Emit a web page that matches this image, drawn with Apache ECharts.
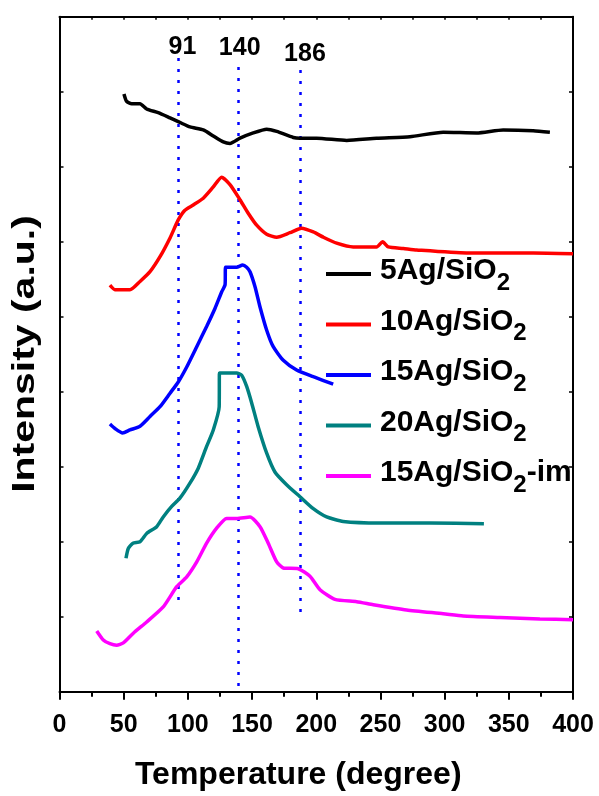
<!DOCTYPE html>
<html>
<head>
<meta charset="utf-8">
<script src="https://cdn.jsdelivr.net/npm/echarts@6/dist/echarts.min.js"></script>
<style>html,body{margin:0;padding:0;background:#fff;}#c{width:599px;height:796px;}</style>
</head>
<body>
<div id="c"></div>
<script>
// ---- data ----
const seriesNames = ['5Ag/SiO2', '10Ag/SiO2', '15Ag/SiO2', '20Ag/SiO2', '15Ag/SiO2-im'];
const seriesColors = ['#000000', '#ff0000', '#0000ff', '#008080', '#ff00ff'];

const ag5 = [[50.2,7.97],[52.3,7.87],[56.2,7.84],[62.7,7.84],[67.9,7.77],[76.9,7.72],[86.1,7.65],[93.8,7.59],[101.7,7.53],[112.0,7.49],[119.8,7.41],[127.6,7.33],[132.8,7.31],[140.6,7.38],[150.9,7.45],[161.4,7.50],[169.2,7.47],[182.1,7.39],[187.3,7.38],[200.3,7.38],[223.7,7.35],[247.0,7.38],[273.0,7.40],[298.9,7.46],[324.9,7.45],[345.6,7.49],[369.0,7.48],[382.0,7.46]];

const ag10 = [[39.3,5.42],[43.2,5.36],[54.9,5.36],[62.7,5.47],[70.5,5.60],[78.3,5.80],[86.1,6.05],[92.5,6.29],[97.7,6.42],[104.2,6.49],[112.0,6.58],[119.8,6.73],[126.3,6.86],[132.8,6.76],[140.6,6.56],[147.0,6.38],[153.6,6.22],[161.4,6.10],[169.2,6.06],[179.5,6.12],[188.6,6.18],[197.7,6.13],[205.5,6.06],[215.9,5.98],[228.8,5.93],[247.0,5.93],[251.7,6.00],[256.1,5.93],[267.8,5.91],[278.2,5.89],[317.1,5.85],[369.0,5.85],[400,5.84]];

const ag15 = [[39.3,3.57],[43.2,3.51],[49.2,3.45],[54.9,3.49],[62.7,3.54],[70.5,3.67],[78.3,3.80],[86.1,3.98],[92.5,4.13],[99.1,4.33],[106.9,4.60],[114.6,4.87],[121.1,5.11],[126.3,5.33],[129.0,5.43],[129.3,5.66],[138.0,5.66],[142.7,5.69],[145.8,5.66],[148.4,5.60],[152.3,5.40],[156.2,5.13],[161.4,4.82],[166.5,4.60],[174.3,4.42],[184.7,4.29],[197.7,4.20],[213.2,4.10]];

const ag20 = [[51.8,1.78],[53.6,1.91],[57.2,1.98],[62.7,2.00],[67.9,2.11],[75.7,2.20],[80.8,2.33],[87.4,2.47],[93.8,2.58],[101.6,2.78],[108.1,2.98],[114.6,3.27],[119.8,3.49],[124.4,3.80],[124.6,4.25],[138.0,4.25],[141.9,4.22],[145.8,4.07],[149.7,3.85],[154.8,3.53],[161.4,3.18],[167.8,2.93],[176.9,2.76],[187.3,2.60],[197.7,2.44],[208.1,2.33],[221.0,2.27],[249.6,2.25],[288.5,2.25],[330.6,2.24]];

const ag15im = [[29.0,0.81],[34.1,0.69],[39.3,0.64],[44.5,0.62],[49.7,0.65],[57.5,0.78],[67.9,0.93],[80.8,1.13],[91.3,1.40],[99.1,1.53],[106.9,1.73],[114.6,1.98],[122.4,2.18],[130.2,2.31],[138.0,2.31],[148.4,2.33],[156.2,2.20],[162.6,1.98],[169.2,1.73],[174.3,1.65],[186.0,1.64],[195.1,1.54],[202.9,1.36],[214.6,1.23],[231.5,1.20],[244.4,1.16],[270.4,1.09],[298.9,1.04],[314.5,1.01],[343.1,0.99],[374.2,0.97],[400,0.96]];

const seriesData = [ag5, ag10, ag15, ag20, ag15im];

const peakTemps = [92.7, 139.6, 187.3];
const peakLabels = ['91', '140', '186'];
const peakLineTop = [8.45, 8.33, 8.29];
const peakLineBottom = [1.19, 0, 0.99];

const xTicks = [0, 50, 100, 150, 200, 250, 300, 350, 400];

// ---- chart ----
const FONT = '"Liberation Sans", Arial, sans-serif';
const chart = echarts.init(document.getElementById('c'), null, {renderer: 'canvas'});

const lineSeries = seriesNames.map((n, i) => ({
  name: n,
  type: 'line',
  data: seriesData[i],
  showSymbol: false,
  symbol: 'none',
  smooth: 0.2,
  lineStyle: {color: seriesColors[i], width: 3.5},
  itemStyle: {color: seriesColors[i]},
  z: 5
}));

const labelOffsets = [[4, 2], [1, -6], [5, -3]];
const peakLabelStyle = {
  show: true,
  position: 'top',
  distance: 0,
  fontFamily: FONT,
  fontWeight: 'bold',
  fontSize: 25,
  color: '#000000',
  opacity: 1,
  textBorderWidth: 0
};

const peakSeries = {
  name: 'peaks',
  type: 'scatter',
  data: peakTemps.map((t, i) => ({
    value: [t, peakLineTop[i]],
    label: Object.assign({}, peakLabelStyle, {offset: labelOffsets[i], formatter: peakLabels[i]})
  })),
  symbolSize: 0,
  silent: true,
  itemStyle: {opacity: 1, color: '#000'},
  label: Object.assign({}, peakLabelStyle),
  markLine: {
    silent: true,
    symbol: ['none', 'none'],
    label: {show: false},
    lineStyle: {color: '#0000ff', type: [3, 8], width: 2.5, cap: 'butt', opacity: 1},
    data: peakTemps.map((t, i) => [{coord: [t, peakLineTop[i]]}, {coord: [t, peakLineBottom[i]]}])
  },
  z: 3
};

const option = {
  animation: false,
  backgroundColor: '#fff',
  grid: {left: 59.5, right: 26, top: 16.7, bottom: 104.3, containLabel: false},
  legend: {
    show: true,
    orient: 'vertical',
    left: 326,
    top: 256,
    padding: 0,
    itemWidth: 45,
    itemHeight: 4,
    itemGap: 11.5,
    icon: 'rect',
    data: seriesNames,
    formatter: name => {
      const parts = name.split('SiO2');
      return '{f|' + parts[0] + 'SiO}{s|2}' + (parts[1] ? '{m|' + parts[1] + '}' : '');
    },
    textStyle: {
      fontFamily: FONT,
      fontWeight: 'bold',
      fontSize: 30,
      color: '#000',
      rich: {
        f: {fontFamily: FONT, fontWeight: 'bold', fontSize: 30, lineHeight: 36, color: '#000', verticalAlign: 'top', padding: [0, 0, 0, 4]},
        m: {fontFamily: FONT, fontWeight: 'bold', fontSize: 30, lineHeight: 36, color: '#000', verticalAlign: 'top'},
        s: {fontFamily: FONT, fontWeight: 'bold', fontSize: 24, lineHeight: 22, padding: [15, 0, 0, 0], color: '#000', verticalAlign: 'top'}
      }
    }
  },
  xAxis: [{
    type: 'value',
    min: 0, max: 400, interval: 50,
    name: 'Temperature (degree)',
    nameLocation: 'middle',
    nameGap: 67,
    nameTextStyle: {fontFamily: FONT, fontWeight: 'bold', fontSize: 32, color: '#000', padding: [0, 36, 0, 0]},
    axisLine: {show: true, onZero: false, lineStyle: {color: '#000', width: 2}},
    axisTick: {show: true, inside: false, length: 8, lineStyle: {color: '#000', width: 2}},
    minorTick: {show: true, splitNumber: 2, length: 5, lineStyle: {color: '#000', width: 2}},
    splitLine: {show: false},
    axisLabel: {
      show: true, margin: 21,
      fontFamily: FONT, fontWeight: 'bold', fontSize: 25, color: '#000',
      formatter: v => xTicks.includes(v) ? String(v) : ''
    }
  }, {
    type: 'value',
    position: 'top',
    min: 0, max: 400, interval: 25,
    axisLine: {show: true, onZero: false, lineStyle: {color: '#000', width: 2}},
    axisTick: {show: true, inside: true, length: 3, lineStyle: {color: '#000', width: 1.5}},
    axisLabel: {show: false},
    splitLine: {show: false}
  }],
  yAxis: [{
    type: 'value',
    min: 0, max: 9, interval: 1,
    axisLine: {show: true, onZero: false, lineStyle: {color: '#000', width: 2}},
    axisTick: {show: true, inside: true, length: 4, lineStyle: {color: '#000', width: 1.5}},
    axisLabel: {show: false},
    splitLine: {show: false}
  }, {
    type: 'value',
    position: 'right',
    min: 0, max: 9, interval: 1,
    axisLine: {show: true, onZero: false, lineStyle: {color: '#000', width: 2}},
    axisTick: {show: true, inside: true, length: 4, lineStyle: {color: '#000', width: 1.5}},
    axisLabel: {show: false},
    splitLine: {show: false}
  }],
  graphic: [{
    type: 'text',
    x: 25,
    y: 354,
    rotation: Math.PI / 2,
    scaleX: 1.28,
    scaleY: 1,
    silent: true,
    style: {
      text: 'Intensity (a.u.)',
      font: 'bold 32px ' + FONT,
      fill: '#000',
      align: 'center',
      verticalAlign: 'middle'
    }
  }],
  series: lineSeries.concat([peakSeries])
};

chart.setOption(option);
</script>
</body>
</html>
